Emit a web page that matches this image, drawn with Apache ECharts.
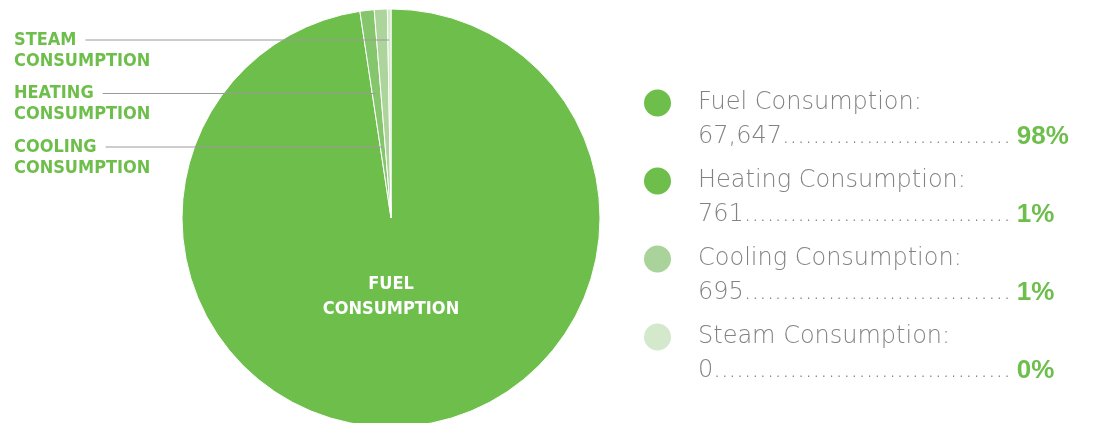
<!DOCTYPE html>
<html>
<head>
<meta charset="utf-8">
<script src="https://cdn.jsdelivr.net/npm/echarts@6/dist/echarts.min.js"></script>
<style>
  html, body { margin: 0; padding: 0; background: #fff; }
  #chart { width: 1097px; height: 423px; }
</style>
</head>
<body>
<div id="chart"></div>
<script>
const categories = ['Fuel Consumption', 'Heating Consumption', 'Cooling Consumption', 'Steam Consumption'];
const values = [67647, 761, 695, 0];
const sliceColors = ['#6ebe4c', '#85c66c', '#acd49b', '#d4e9cb'];
const legendColors = ['#6ebe4c', '#6ebe4c', '#a9d39a', '#d4e9cb'];
// row of each outside label, counted from the top (fuel is labelled inside)
const labelRows = [null, 1, 2, 0];

const GREEN = '#6ebe4c';
const GREY = '#828282';
const labelFont = '"DejaVu Sans Condensed", sans-serif';
const legendFont = '"DejaVu Sans", sans-serif';
const pctFont = '"Liberation Sans", Arial, sans-serif';
const LEGEND_SIZE = 24;

const cx = 391, cy = 218, r = 209;
const total = values.reduce((a, b) => a + b, 0);

const ctx = document.createElement('canvas').getContext('2d');
function textWidth(str, font) {
  ctx.font = font;
  return ctx.measureText(str).width;
}

// value + dot leader, so the percentages line up
function legendText(name) {
  const i = categories.indexOf(name);
  const val = values[i].toLocaleString('en-US');
  const pct = Math.round(values[i] / total * 100) + '%';
  const f = '200 ' + LEGEND_SIZE + 'px ' + legendFont;
  const n = Math.floor((316 - textWidth(val, f)) / textWidth('.', f));
  return '{name|' + name + ':}\n{val|' + val + '.'.repeat(n) + '}{pct|' + pct + '}';
}

const pieBase = {
  type: 'pie',
  center: [cx, cy],
  radius: r,
  startAngle: 90,
  clockwise: true,
  minAngle: 1,
  avoidLabelOverlap: false,
  silent: true
};

const myChart = echarts.init(document.getElementById('chart'));
const option = {
  animation: false,
  legend: {
    orient: 'vertical',
    left: 644,
    top: 89.5,
    padding: 0,
    itemGap: 17.5,
    itemWidth: 27,
    itemHeight: 27,
    icon: 'circle',
    selectedMode: false,
    data: categories.map((name, i) => ({ name, itemStyle: { color: legendColors[i], borderWidth: 0 } })),
    formatter: legendText,
    textStyle: {
      padding: [34, 0, 0, 22],
      rich: {
        name: { fontFamily: legendFont, fontWeight: 200, fontSize: LEGEND_SIZE, color: GREY, lineHeight: 34 },
        val: { fontFamily: legendFont, fontWeight: 200, fontSize: LEGEND_SIZE, color: GREY, lineHeight: 34 },
        pct: { fontFamily: pctFont, fontWeight: 'bold', fontSize: 26, color: GREEN, lineHeight: 34, padding: [0, 0, 0, 6] }
      }
    }
  },
  series: [
    // the slices
    Object.assign({}, pieBase, {
      z: 2,
      itemStyle: { borderColor: '#fff', borderWidth: 1 },
      label: { show: false },
      labelLine: { show: false },
      data: categories.map((name, i) => ({ name, value: values[i], itemStyle: { color: sliceColors[i] } }))
    }),
    // same pie, see-through and drawn higher, so its labels and lines sit on top of the slices
    Object.assign({}, pieBase, {
      z: 5,
      itemStyle: { color: 'rgba(0,0,0,0)', borderWidth: 0 },
      label: {
        position: 'outside',
        color: GREEN,
        fontFamily: labelFont,
        fontWeight: 'bold',
        fontSize: 18,
        lineHeight: 21,
        formatter: p => p.name.toUpperCase().replace(' ', '\n')
      },
      labelLine: { show: true, showAbove: true, lineStyle: { color: '#9a9a9a', width: 1 } },
      labelLayout: function (p) {
        if (p.dataIndex === 0) {
          return { x: cx, y: cy + r * 0.375, align: 'center', verticalAlign: 'middle' };
        }
        const lineY = 40 + labelRows[p.dataIndex] * 53.5;
        // line runs into the middle of the slice's own box
        const endX = p.rect.x + p.rect.width / 2;
        const firstLine = p.text.split('\n')[0];
        const startX = 14 + textWidth(firstLine, 'bold 18px ' + labelFont) + 9;
        return {
          x: 14,
          y: lineY - 10.5,
          align: 'left',
          verticalAlign: 'top',
          labelLinePoints: [[startX, lineY], [(startX + endX) / 2, lineY], [endX, lineY]]
        };
      },
      data: categories.map((name, i) => {
        const item = { name, value: values[i] };
        if (i === 0) {
          item.label = { position: 'inside', color: '#fff', lineHeight: 25 };
          item.labelLine = { show: false };
        }
        return item;
      })
    })
  ]
};
myChart.setOption(option);
</script>
</body>
</html>
